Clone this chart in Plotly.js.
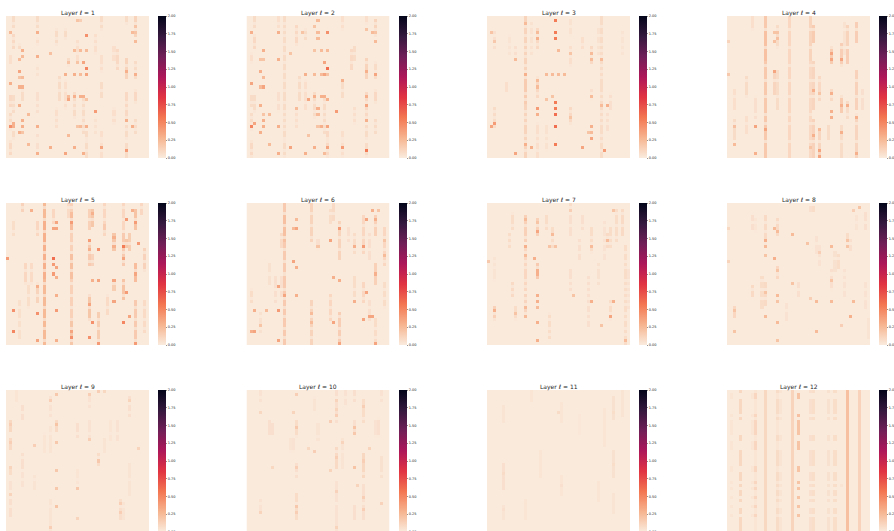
<!DOCTYPE html>
<html><head><meta charset="utf-8">
<script src="https://cdn.plot.ly/plotly-3.0.1.min.js"></script>
<style>html,body{margin:0;padding:0;background:#fff;overflow:hidden}</style>
</head><body><div id="chart"></div>
<script>
const gridSize = 47;
const layerLabels = [1,2,3,4,5,6,7,8,9,10,11,12];
const colorTicks = [0,0.25,0.5,0.75,1,1.25,1.5,1.75,2];
const rocketReversed = [[0,'#faebdd'],[0.143,'#f6b48f'],[0.286,'#f37651'],[0.429,'#e13342'],[0.571,'#ad1759'],[0.714,'#701f57'],[0.857,'#35193e'],[1,'#03051a']];

// Segments: [column, firstRow, lastRow, value]; cells: [column, row, value]
const segs1 = [[2,0,3,.1],[2,6,10,.12],[1,13,15,.08],[4,9,10,.1],[1,26,29,.12],[2,26,31,.1],[1,32,37,.1],[2,38,40,.1],[1,41,45,.12],[5,24,27,.1],[10,0,3,.1],[10,7,9,.08],[10,16,19,.06],[10,25,31,.07],[10,39,44,.07],[16,4,9,.1],[16,30,36,.08],[17,20,27,.1],[19,4,7,.1],[19,21,30,.08],[20,14,16,.1],[23,8,14,.08],[22,25,33,.1],[25,26,38,.1],[26,38,46,.1],[29,6,12,.08],[29,33,38,.06],[31,0,4,.1],[31,13,18,.08],[31,22,26,.1],[31,38,46,.08],[35,10,14,.08],[35,30,35,.08],[36,11,17,.12],[39,0,2,.1],[39,14,20,.15],[39,25,33,.12],[39,36,40,.1],[39,42,46,.1],[42,0,6,.15],[42,15,20,.1],[42,24,28,.12],[42,34,38,.1]];
const hot1 = [[26,6,.45],[26,17,.5],[1,36,.45],[4,18,.35],[10,5,.3],[1,5,.25],[5,11,.3],[10,13,.3],[4,14,.25],[5,13,.25],[14,12,.22],[22,11,.25],[24,11,.25],[26,11,.25],[25,15,.35],[23,15,.2],[20,15,.2],[19,19,.3],[22,19,.3],[24,19,.25],[26,19,.35],[4,20,.2],[5,20,.25],[1,22,.3],[4,23,.3],[5,23,.3],[20,27,.35],[20,26,.25],[22,26,.3],[24,26,.3],[25,26,.3],[26,27,.2],[4,29,.3],[29,31,.4],[5,34,.3],[7,32,.25],[2,35,.3],[2,36,.3],[5,36,.3],[10,36,.3],[39,34,.3],[41,36,.3],[24,36,.25],[23,36,.2],[26,36,.3],[4,38,.3],[5,38,.2],[20,39,.25],[14,43,.3],[22,43,.3],[31,43,.35],[7,42,.25],[39,44,.4],[10,45,.3],[19,45,.35],[25,45,.3],[39,18,.3],[42,19,.3],[42,8,.25],[41,5,.25],[42,5,.2],[42,3,.2],[23,1,.2],[24,1,.15]];
const quiet1 = [2,4,7,9,12,16,18,21,24,28,30,33,35,37,40,41,44];

const segs2 = [[12,0,46,.1],[2,0,3,.1],[2,6,10,.12],[1,12,15,.08],[1,26,29,.1],[2,26,31,.1],[1,32,37,.1],[1,41,46,.12],[10,0,3,.08],[10,25,31,.07],[16,3,9,.12],[16,30,36,.08],[17,20,27,.1],[19,4,7,.1],[19,21,30,.08],[22,25,33,.1],[25,26,38,.1],[26,38,46,.12],[31,0,4,.08],[31,22,26,.1],[31,38,46,.08],[35,10,14,.1],[35,30,35,.08],[34,11,17,.12],[39,0,2,.08],[39,14,20,.15],[39,25,33,.12],[39,36,40,.1],[39,42,46,.1],[42,1,6,.15],[42,15,20,.1],[42,24,28,.12],[42,34,38,.1]];
const hot2 = [[26,5,.45],[26,17,.6],[25,15,.35],[1,5,.3],[10,5,.3],[23,1,.25],[23,5,.25],[23,7,.25],[22,3,.2],[18,5,.2],[41,5,.25],[42,5,.2],[42,8,.25],[39,4,.2],[5,11,.3],[4,14,.2],[5,14,.2],[10,14,.3],[14,12,.2],[22,11,.2],[24,11,.25],[26,11,.25],[4,18,.3],[19,19,.3],[22,19,.25],[24,19,.25],[25,19,.35],[26,19,.2],[39,18,.3],[42,19,.35],[5,20,.25],[1,22,.35],[4,23,.25],[5,23,.35],[31,21,.3],[20,27,.35],[22,26,.3],[24,26,.3],[25,26,.3],[26,27,.3],[39,29,.35],[39,26,.3],[4,29,.3],[5,34,.3],[7,32,.25],[5,32,.2],[29,31,.4],[16,30,.25],[23,30,.3],[23,32,.25],[39,34,.3],[1,36,.5],[2,35,.35],[5,36,.3],[10,36,.3],[26,36,.35],[24,36,.3],[23,36,.2],[4,38,.3],[20,39,.2],[26,43,.35],[14,43,.35],[22,43,.3],[31,43,.4],[7,42,.25],[39,44,.55],[10,45,.3],[19,45,.3],[25,45,.25]];
const quiet2 = [2,4,6,9,12,15,18,21,24,28,31,33,35,37,40,41,44,46];

const segs3 = [[12,0,46,.15],[12,20,28,.2],[37,0,46,.1],[16,4,10,.12],[16,20,26,.12],[16,35,46,.08],[2,5,10,.07],[2,30,36,.1],[9,10,14,.07],[14,2,12,.06],[27,1,6,.06],[27,30,35,.12],[27,10,16,.08],[34,10,15,.12],[34,24,27,.07],[31,7,10,.08],[36,4,12,.06],[40,25,30,.07],[39,32,37,.07],[44,5,12,.05],[6,22,24,.08],[19,36,44,.06],[7,6,12,.05]];
const hot3 = [[22,1,.55],[22,5,.55],[22,7,.55],[22,28,.55],[22,30,.55],[22,32,.6],[22,36,.6],[22,42,.55],[16,30,.4],[16,32,.3],[2,35,.4],[1,36,.35],[16,5,.25],[16,7,.3],[34,12,.25],[34,14,.25],[37,14,.25],[23,11,.25],[27,12,.2],[34,26,.25],[39,29,.3],[37,29,.25],[34,36,.3],[34,40,.35],[34,38,.25],[33,38,.2],[38,44,.4],[31,43,.35],[9,45,.35],[12,42,.3],[14,43,.3],[12,19,.3],[9,14,.25],[19,19,.25],[21,19,.25],[23,19,.25],[25,19,.25],[16,21,.25],[16,23,.25],[21,26,.2],[19,27,.2],[27,33,.2],[1,5,.2],[2,8,.18],[12,2,.25]];
const quiet3 = [3,6,9,11,13,16,18,20,25,27,31,33,35,39,41,44];

const segs4 = [[12,0,46,.22],[12,5,14,.27],[20,0,46,.13],[27,0,14,.15],[27,14,46,.12],[28,3,8,.2],[28,15,30,.14],[28,34,46,.16],[34,10,15,.2],[34,24,27,.12],[37,9,16,.18],[37,26,31,.2],[37,36,46,.1],[39,3,9,.15],[39,11,15,.18],[39,28,33,.1],[42,2,8,.18],[42,18,30,.16],[42,32,46,.14],[30,20,27,.12],[30,38,46,.14],[16,3,10,.1],[15,18,25,.14],[16,18,30,.1],[2,24,30,.08],[2,34,40,.1],[6,20,26,.1],[6,33,38,.08],[9,26,33,.07],[8,0,4,.08],[33,36,40,.1],[44,24,30,.07],[38,2,12,.06]];
const hot4 = [[15,18,.35],[15,5,.2],[16,5,.2],[15,8,.22],[16,7,.22],[28,24,.3],[30,25,.2],[34,25,.3],[34,31,.3],[34,33,.3],[37,14,.35],[34,12,.35],[34,14,.35],[9,36,.35],[9,45,.3],[2,42,.25],[12,37,.35],[30,37,.25],[28,39,.3],[37,38,.3],[30,44,.35],[30,46,.35],[42,45,.3],[27,43,.2],[39,29,.3],[37,29,.3],[42,33,.3],[0,8,.12],[0,19,.18],[2,36,.22]];
const quiet4 = [4,10,16,21,26,32,35,41];

const segs5 = [[12,0,46,.3],[12,6,24,.36],[21,0,46,.16],[21,3,8,.28],[21,17,24,.26],[21,38,46,.22],[27,2,8,.16],[27,12,20,.2],[27,30,38,.22],[28,2,7,.22],[28,17,20,.15],[32,0,10,.12],[32,7,9,.2],[35,10,15,.22],[35,25,28,.18],[38,0,10,.12],[38,10,20,.2],[38,25,31,.24],[42,2,8,.24],[42,20,25,.28],[42,32,46,.2],[40,10,15,.18],[39,12,14,.22],[30,36,46,.18],[2,6,10,.08],[5,0,2,.15],[6,20,26,.12],[8,20,26,.1],[10,6,10,.12],[10,26,32,.14],[15,2,6,.12],[20,0,4,.1],[44,0,3,.12],[45,15,22,.15],[45,32,42,.1],[33,30,36,.1],[7,26,34,.08],[4,32,44,.07]];
const hot5 = [[15,18,.6],[15,20,.4],[16,21,.35],[15,23,.4],[16,24,.3],[16,6,.35],[15,8,.35],[16,8,.35],[21,6,.4],[30,15,.45],[38,14,.55],[39,5,.4],[42,6,.4],[43,13,.4],[38,18,.35],[27,12,.4],[27,15,.3],[2,35,.45],[2,42,.5],[10,36,.45],[10,27,.3],[10,45,.35],[16,35,.4],[16,30,.3],[38,39,.5],[39,29,.4],[40,37,.35],[35,32,.35],[28,39,.45],[21,42,.35],[21,44,.45],[27,44,.45],[30,46,.4],[42,46,.4],[16,45,.3],[27,33,.35],[30,25,.35],[35,25,.35],[28,25,.3],[42,23,.35],[0,18,.4],[35,11,.3],[35,14,.3],[8,2,.3],[41,2,.3],[28,3,.3]];
const quiet5 = [1,5,9,13,16,19,22,26,30,34,38,41,45];

const segs6 = [[12,0,46,.22],[12,4,12,.3],[12,24,30,.2],[21,0,12,.16],[21,32,46,.16],[30,6,18,.16],[30,36,46,.2],[38,4,16,.14],[38,26,32,.14],[42,4,10,.18],[42,20,26,.18],[42,38,46,.1],[35,10,16,.1],[35,24,30,.1],[27,2,6,.1],[27,30,38,.14],[28,0,5,.12],[45,8,20,.14],[45,26,34,.1],[11,10,14,.12],[11,24,30,.08],[7,20,26,.07],[4,36,42,.07],[9,24,32,.08],[23,12,15,.08],[40,10,18,.08],[1,28,32,.1],[40,32,38,.08],[33,8,12,.08]];
const hot6 = [[15,19,.35],[16,5,.25],[16,8,.35],[15,8,.25],[16,21,.3],[10,27,.35],[10,35,.4],[10,45,.35],[2,35,.3],[6,35,.25],[2,42,.35],[1,42,.3],[16,30,.3],[12,30,.35],[27,12,.35],[30,8,.4],[30,25,.3],[28,24,.3],[35,14,.3],[38,14,.4],[39,5,.35],[39,29,.35],[42,5,.3],[42,23,.3],[41,2,.3],[43,2,.2],[35,32,.3],[38,38,.35],[40,37,.35],[41,37,.35],[28,39,.35],[30,46,.35],[42,46,.35],[21,36,.25],[21,39,.25],[23,14,.2],[45,17,.25],[45,12,.2],[4,40,.2]];
const quiet6 = [3,7,11,15,19,23,28,31,34,37,41,44];

const segs7 = [[12,4,12,.18],[12,14,28,.14],[12,30,36,.15],[16,5,10,.18],[16,20,24,.22],[8,3,8,.1],[8,26,30,.12],[7,10,14,.1],[21,8,14,.1],[19,4,8,.1],[20,36,44,.1],[27,0,2,.1],[27,4,10,.08],[27,22,28,.08],[31,4,8,.08],[33,24,40,.08],[36,20,26,.07],[38,6,18,.06],[39,10,14,.12],[40,8,14,.1],[40,32,38,.1],[42,2,12,.1],[44,2,10,.12],[45,14,46,.1],[46,22,34,.06],[2,18,25,.05],[2,34,38,.18],[9,34,38,.1],[34,8,16,.1],[30,12,18,.08]];
const hot7 = [[15,18,.3],[16,9,.35],[16,6,.2],[16,22,.3],[16,23,.3],[12,14,.3],[12,5,.25],[12,17,.25],[16,30,.3],[16,32,.3],[16,34,.25],[16,39,.3],[16,45,.3],[2,35,.3],[21,10,.25],[34,14,.25],[34,32,.3],[41,32,.3],[40,37,.35],[39,12,.25],[41,2,.2],[45,45,.25],[12,37,.25],[12,34,.25],[20,14,.2],[22,14,.2],[28,30,.2],[37,40,.2],[9,36,.2],[27,2,.15],[0,19,.18]];
const quiet7 = [1,3,7,11,13,16,19,21,25,27,29,31,33,36,38,41,43];

const segs8 = [[12,4,14,.12],[11,24,34,.1],[12,26,33,.12],[16,5,10,.12],[16,21,24,.14],[8,4,8,.08],[8,27,30,.12],[27,1,2,.08],[28,1,2,.1],[29,11,16,.06],[30,14,20,.06],[35,16,22,.07],[36,17,21,.1],[39,10,14,.1],[40,12,15,.08],[42,4,8,.05],[45,3,8,.08],[45,26,34,.06],[2,34,37,.14],[38,22,30,.06],[19,33,38,.06],[34,22,28,.08],[9,5,9,.04],[23,26,30,.08],[46,38,44,.05]];
const hot8 = [[15,18,.3],[16,9,.25],[15,8,.25],[12,12,.3],[12,14,.25],[12,17,.2],[16,22,.2],[16,30,.25],[16,32,.2],[16,39,.25],[16,45,.2],[21,10,.25],[21,26,.2],[2,35,.2],[2,42,.2],[34,14,.25],[39,12,.2],[39,14,.2],[34,32,.25],[41,32,.25],[40,37,.3],[29,32,.25],[27,31,.15],[29,42,.25],[41,2,.15],[43,1,.2],[12,37,.25],[12,29,.2],[26,13,.2],[30,16,.15],[34,25,.2],[37,40,.15],[0,8,.1],[0,19,.12]];
const quiet8 = [6,9,13,18,23,25,28,31,35];

const segs9 = [[1,10,13,.13],[1,16,19,.12],[1,25,27,.1],[1,30,32,.06],[1,36,41,.08],[5,5,9,.08],[5,21,25,.08],[5,27,31,.06],[14,2,8,.06],[14,12,20,.05],[14,36,46,.05],[16,10,13,.12],[23,11,15,.08],[23,26,30,.04],[27,1,5,.06],[27,10,16,.06],[30,21,24,.1],[32,16,20,.05],[34,10,16,.04],[36,10,16,.06],[37,36,42,.09],[38,37,42,.05],[40,2,8,.08],[40,24,34,.05],[9,28,32,.05],[12,14,20,.04],[3,0,3,.04]];
const hot9 = [[16,1,.18],[14,3,.15],[16,11,.2],[1,11,.15],[1,17,.15],[16,17,.18],[9,18,.15],[27,16,.15],[30,23,.18],[16,26,.18],[1,25,.12],[27,1,.15],[30,0,.15],[32,0,.1],[40,3,.12],[16,32,.18],[23,32,.18],[16,38,.2],[37,37,.15],[37,40,.15],[14,45,.15],[1,34,.12],[43,19,.12],[23,42,.12]];
const quiet9 = [4,7,14,22,29,38];

const segs10 = [[16,10,15,.1],[16,24,28,.08],[16,34,42,.1],[29,0,10,.08],[29,19,25,.12],[29,30,36,.06],[29,38,46,.06],[35,10,15,.08],[35,38,42,.08],[38,3,10,.1],[38,21,28,.13],[38,31,37,.08],[38,38,42,.08],[42,10,15,.06],[43,9,15,.08],[44,22,28,.07],[7,10,14,.08],[8,11,14,.08],[4,0,3,.06],[4,36,40,.06],[22,2,6,.05],[23,11,16,.05],[31,16,25,.05],[32,0,4,.06],[35,0,3,.08],[44,0,3,.06],[15,16,20,.06],[14,16,20,.05]];
const hot10 = [[16,1,.15],[16,12,.18],[35,12,.2],[35,14,.18],[27,10,.15],[22,20,.15],[20,19,.1],[35,25,.2],[16,25,.15],[27,26,.12],[29,8,.15],[29,6,.12],[29,3,.12],[29,22,.15],[38,23,.15],[38,5,.15],[38,35,.15],[16,38,.18],[16,40,.15],[4,40,.12],[29,33,.13],[36,31,.12],[38,39,.15],[44,37,.13],[29,45,.12],[8,25,.1],[4,7,.1],[15,7,.12],[31,17,.12],[40,19,.12]];
const quiet10 = [2,9,15,20,27,37];

const segs11 = [[5,5,10,.04],[5,24,32,.06],[5,38,42,.04],[14,0,3,.03],[24,4,10,.03],[24,28,34,.03],[41,2,9,.05],[41,20,28,.05],[41,34,40,.04],[38,6,18,.03],[36,30,36,.03],[44,0,8,.04],[30,8,14,.02],[17,20,28,.03],[12,36,42,.03]];
const hot11 = [[23,7,.08],[5,27,.08],[41,7,.07],[41,24,.07],[5,39,.06],[24,31,.06]];
const quiet11 = [];

const rangesMain12 = [[0,0],[3,7],[9,9],[15,16],[20,24],[27,29],[31,31],[33,34],[36,36],[39,40],[42,42],[43,46]];
const rangesAlt12 = [[1,2],[8,8],[10,14],[17,19],[25,26],[30,30],[32,32],[35,35],[38,38],[41,41]];
const mainCols12 = [[4,.1],[16,.08],[17,.04],[27,.06],[28,.07],[33,.05],[35,.07]];
const altCols12 = [[9,.11],[8,.03],[23,.2],[1,.03]];
const fullCols12 = [[12,.1],[21,.12],[39,.22],[43,.13],[16,.03],[9,.03]];
const segs12 = [];
mainCols12.forEach(([c,v])=>rangesMain12.forEach(([a,b])=>segs12.push([c,a,b,v])));
altCols12.forEach(([c,v])=>rangesAlt12.forEach(([a,b])=>segs12.push([c,a,b,v])));
fullCols12.forEach(([c,v])=>segs12.push([c,0,46,v]));
const hot12 = [[23,8,.22],[37,31,.04]];
const quiet12 = [];

const allSegs = [segs1,segs2,segs3,segs4,segs5,segs6,segs7,segs8,segs9,segs10,segs11,segs12];
const allHot = [hot1,hot2,hot3,hot4,hot5,hot6,hot7,hot8,hot9,hot10,hot11,hot12];
const allQuiet = [quiet1,quiet2,quiet3,quiet4,quiet5,quiet6,quiet7,quiet8,quiet9,quiet10,quiet11,quiet12];
const stripeLevels = [0.8,0.8,0.8,0.8,0.85,0.75,0.75,0.75,0.75,0.75,1,1];

const W = 894, H = 536;
const panelLefts = [6,246.5,487,727], panelTops = [16,203,390];
const panelW = 143, panelH = 142, barLeftGap = 152, barW = 8;

function buildZ(segs, hot, quiet, level){
  const z = [];
  for(let r=0;r<gridSize;r++) z.push(new Array(gridSize).fill(0.005));
  segs.forEach(([c,a,b,v])=>{ for(let r=a;r<=Math.min(b,gridSize-1);r++){
    const cell = quiet.includes(r) ? v*level*0.3 : v*level;
    z[r][c]=Math.max(z[r][c],cell);
  }});
  hot.forEach(([c,r,v])=>{ z[r][c]=v; });
  return z;
}

const data = [], annotations = [];
const layout = {width:W,height:H,margin:{l:0,r:0,t:0,b:0,autoexpand:false},paper_bgcolor:'#fff',plot_bgcolor:'#fff',showlegend:false};
layerLabels.forEach((lab,i)=>{
  const col=i%4,row=Math.floor(i/4),n=i+1;
  const L=panelLefts[col],T=panelTops[row];
  const xa='xaxis'+(n===1?'':n),ya='yaxis'+(n===1?'':n);
  layout[xa]={domain:[L/W,(L+panelW)/W],visible:false,range:[-0.5,gridSize-0.5],fixedrange:true,anchor:'y'+(n===1?'':n)};
  layout[ya]={domain:[1-(T+panelH)/H,1-T/H],visible:false,range:[gridSize-0.5,-0.5],fixedrange:true,anchor:'x'+(n===1?'':n)};
  data.push({type:'heatmap',z:buildZ(allSegs[i],allHot[i],allQuiet[i],stripeLevels[i]),xaxis:'x'+(n===1?'':n),yaxis:'y'+(n===1?'':n),
    zmin:0,zmax:2,colorscale:rocketReversed,zsmooth:false,hoverinfo:'skip',
    colorbar:{x:(L+barLeftGap)/W,xanchor:'left',xref:'paper',y:1-T/H,yanchor:'top',yref:'paper',
      lenmode:'pixels',len:panelH,thicknessmode:'pixels',thickness:barW,xpad:0,ypad:0,outlinewidth:0,borderwidth:0,
      tickmode:'array',tickvals:colorTicks,ticktext:colorTicks.map(v=>v.toFixed(2)),ticks:'outside',ticklen:1.5,tickwidth:0.5,tickcolor:'#262626',
      tickfont:{size:3.5,color:'#262626',family:'DejaVu Sans'}}});
  annotations.push({xref:'paper',yref:'paper',x:(L+panelW/2)/W,y:1-T/H,xanchor:'center',yanchor:'bottom',yshift:-3,showarrow:false,
    text:'Layer <i>ℓ</i> = '+lab,font:{size:6,color:'#262626',family:'DejaVu Sans'}});
});
layout.annotations=annotations;
Plotly.newPlot('chart',data,layout,{displayModeBar:false,staticPlot:true});
</script></body></html>
